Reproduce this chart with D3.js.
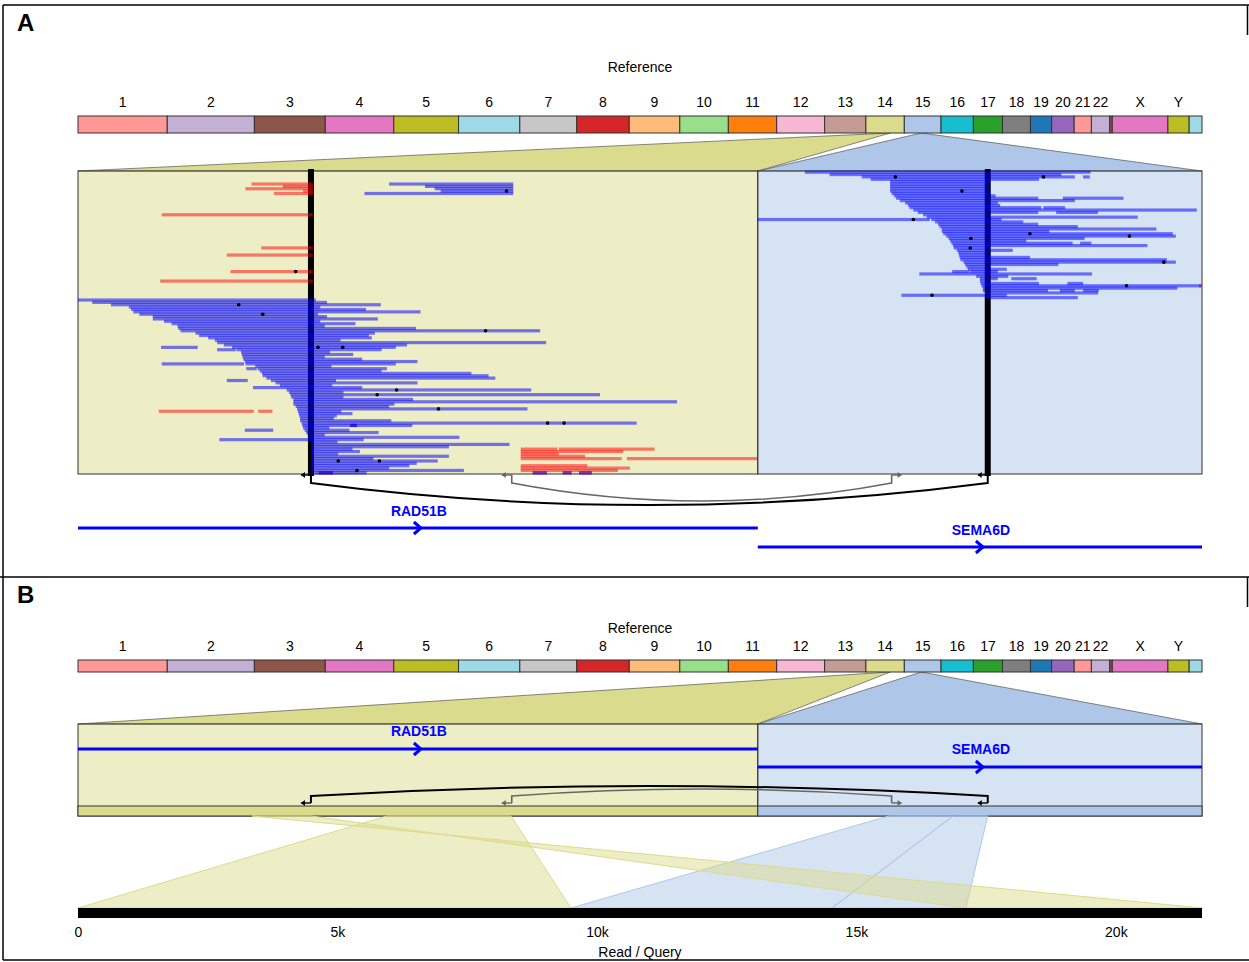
<!DOCTYPE html>
<html>
<head>
<meta charset="utf-8">
<script src="https://cdn.jsdelivr.net/npm/d3@7"></script>
<style>
  body { margin: 0; background: #fff; }
  text { font-family: "Liberation Sans", Arial, sans-serif; }
</style>
</head>
<body>
<svg id="chart" width="1249" height="962"></svg>
<script>
// ---- reference genome (hg19, Mb) ----
var chromNames = ["1","2","3","4","5","6","7","8","9","10","11","12","13","14","15","16","17","18","19","20","21","22","","X","Y",""];
var chromSizes = [249.25,243.2,198.0,191.15,180.9,171.1,159.1,146.4,141.2,135.5,135.0,133.85,115.2,107.3,102.5,90.35,81.2,78.1,59.1,63.0,48.1,51.3,7,155.3,59.4,35.8];
var palette = ["#ff9896","#c5b0d5","#8c564b","#e377c2","#bcbd22","#9edae5","#c7c7c7","#d62728","#ffbb78","#98df8a",
               "#ff7f0e","#f7b6d2","#c49c94","#dbdb8d","#aec7e8","#17becf","#2ca02c","#7f7f7f","#1f77b4","#9467bd"];

// ---- the two zoomed reference windows ----
var windowChroms = [13, 14];                 // index into chromNames (chr14, chr15)
var windowSpansMb = [[68.29, 68.32], [47.50, 47.52]];
var windowLengths = [909, 594];              // window coordinate units
var windowColors = ["#dbdb8d", "#aec7e8"];
var breakpoints = [[0, 311.5], [1, 307.5]];

// reads: [row, start, end] in window units
var leftBlue = [
  [5,416,582],[6,464,582],[7,477,582],[8,485,582],[9,383,582],
  [54,0,318],[55,19,333],[56,44,405],[57,68,324],[58,71,385],[59,74,458],[60,82,321],[61,100,333],[62,100,401],
  [63,115,324],[64,125,371],[65,133,330],[66,134,452],[67,137,618],[68,157,397],[69,162,389],[70,174,393],
  [71,183,351],[72,186,626],[73,195,440],[74,206,425],[74,111,160],[75,212,406],[75,186,211],[76,218,337],
  [77,219,368],[78,220,330],[79,221,380],[80,223,454],[81,224,425],[81,112,222],[82,237,339],[83,240,413],
  [83,225,239],[84,243,406],[85,246,526],[86,247,549],[87,252,558],[88,258,345],[88,199,227],[89,264,454],
  [90,270,340],[91,234,380],[92,279,606],[93,282,355],[94,284,698],[95,285,355],[96,288,448],[97,288,801],
  [98,288,423],[99,291,416],[100,293,601],[101,294,352],[102,295,367],[103,296,346],[104,297,342],[105,297,419],
  [106,299,747],[107,300,447],[108,301,336],[109,303,363],[109,223,261],[110,305,402],[111,307,330],[112,309,510],
  [113,189,382],[114,312,347],[115,312,577],[116,312,496],[117,312,367],[118,312,377],[119,312,348],[120,312,496],
  [121,312,395],[122,312,481],[123,312,453],[124,312,443],[125,312,416],[126,312,516],[127,312,386]
];
var leftRed = [
  [5,232,314],[6,274,314],[7,224,314],[8,301,314],[9,262,314],[18,112,314],[32,245,314],[35,199,314],
  [42,204,314],[46,110,314],[101,108,235],[101,241,260],[117,592,641],[117,643,771],[118,592,729],
  [119,592,643],[120,592,678],[121,592,727],[121,734,909],[124,592,681],[125,592,738],[126,592,722]
];
var leftMixed = [[107,364,373],[127,322,341],[127,608,627],[127,648,660],[127,670,687]];
var leftDots = [[8,573],[42,291],[56,215],[60,247],[67,545],[74,321],[74,354],[92,426],[94,400],[100,482],
  [106,628],[106,650],[122,348],[122,403],[126,373]];

var rightBlue = [
  [0,63,445],[1,96,406],[2,139,424],[2,435,444],[3,151,376],[4,177,310],[5,177,310],[6,177,310],[7,177,310],
  [8,177,310],[9,179,310],[10,182,318],[11,185,375],[11,408,489],[12,190,424],[13,197,321],[14,201,324],
  [15,203,379],[15,382,411],[16,208,587],[17,214,375],[17,399,455],[18,221,310],[19,226,508],[20,0,230],
  [20,232,326],[21,237,355],[22,241,375],[23,243,428],[24,246,533],[25,246,390],[26,248,555],[27,252,559],
  [28,255,437],[29,257,359],[30,259,421],[30,431,446],[31,261,521],[32,262,310],[33,266,341],[34,268,310],
  [35,269,310],[36,270,364],[37,271,547],[38,275,559],[39,277,402],[40,279,310],[41,281,333],[42,260,283],
  [42,284,321],[43,216,447],[44,292,335],[45,297,321],[45,339,373],[46,297,310],[47,298,376],[47,414,435],
  [48,299,593],[49,301,561],[50,301,388],[50,404,424],[50,435,456],[51,304,455],[52,192,333],[53,306,428]
];
var rightRed = [[48,590,594]];
var rightDots = [[2,184],[2,382],[8,273],[20,208],[26,364],[27,497],[28,285],[32,284],[38,543],[48,493],[52,233]];
var nRows = 128;

// junctions between alignments: [window, pos] ends, arrow directions
var junctions = [
  {a: [0, 311.5], b: [1, 307.5], dirA: -1, dirB: -1, color: "#000", width: 2, depthA: 22, depthB: 10},
  {a: [0, 580], b: [1, 179], dirA: -1, dirB: 1, color: "#666", width: 1.6, depthA: 18, depthB: 7}
];

var genes = [
  {name: "RAD51B", win: 0, start: 0, end: 909},
  {name: "SEMA6D", win: 1, start: 0, end: 594}
];

// alignments of the read to the reference (panel B); query in kb
var readLength = 21.66;
var alignments = [
  {win: 0, ref: [413, 579], query: [0, 9.50]},
  {win: 1, ref: [175, 261], query: [9.50, 14.53]},
  {win: 1, ref: [261, 307.5], query: [14.53, 17.11]},
  {win: 0, ref: [312, 232.6], query: [17.11, 21.66]}
];
var queryTicks = [0, 5, 10, 15, 20];

// ---------------------------------------------------------------
var svg = d3.select("#chart");
var X0 = 78, X1 = 1202;

var chromStarts = [0].concat(Array.from(d3.cumsum(chromSizes)));
var genomeX = d3.scaleLinear().domain([0, d3.sum(chromSizes)]).range([X0, X1]);
var winOffsets = [0, windowLengths[0]];
var winScale = d3.scaleLinear().domain([0, d3.sum(windowLengths)]).range([X0, X1]);
function wx(w, pos) { return winScale(winOffsets[w] + pos); }
function chromX(ci, mb) { return genomeX(chromStarts[ci] + mb); }

// frame lines
var frame = svg.append("g").attr("stroke", "#000").attr("stroke-width", 1.5);
[[3,5,1249,5],[3,5,3,960],[1247.5,5,1247.5,35],[0,577,1249,577],[1247.5,577,1247.5,607],[3,960,1249,960]]
  .forEach(function(l) {
    frame.append("line").attr("x1", l[0]).attr("y1", l[1]).attr("x2", l[2]).attr("y2", l[3]);
  });

function panelLetter(t, y) {
  svg.append("text").attr("x", 17).attr("y", y).text(t)
    .attr("font-size", 24).attr("font-weight", "bold");
}

function drawKaryotype(refY, labelY, barY, barH, winTopY) {
  var g = svg.append("g");
  g.append("text").attr("x", 640).attr("y", refY).attr("text-anchor", "middle")
    .attr("font-size", 14).text("Reference");

  // zoom trapezoids
  windowChroms.forEach(function(ci, w) {
    var p = [[chromX(ci, windowSpansMb[w][0]), barY + barH], [chromX(ci, windowSpansMb[w][1]), barY + barH],
             [wx(w, windowLengths[w]), winTopY], [wx(w, 0), winTopY]];
    g.append("path").attr("d", d3.line()(p) + "Z")
      .attr("fill", windowColors[w]).attr("stroke", "#555").attr("stroke-width", 0.7);
  });

  chromSizes.forEach(function(s, i) {
    var x = genomeX(chromStarts[i]), x2 = genomeX(chromStarts[i + 1]);
    g.append("rect").attr("x", x).attr("y", barY).attr("width", x2 - x).attr("height", barH)
      .attr("fill", palette[i % palette.length]).attr("stroke", "#333").attr("stroke-width", 1);
    if (chromNames[i]) {
      g.append("text").attr("x", (x + x2) / 2).attr("y", labelY).attr("text-anchor", "middle")
        .attr("font-size", 14).text(chromNames[i]);
    }
  });
}

function drawWindows(y0, y1) {
  windowLengths.forEach(function(len, w) {
    svg.append("rect").attr("x", wx(w, 0)).attr("y", y0).attr("width", wx(w, len) - wx(w, 0))
      .attr("height", y1 - y0).attr("fill", windowColors[w]).attr("fill-opacity", 0.5)
      .attr("stroke", "#333").attr("stroke-width", 1);
  });
}

function drawGene(gene, lineY, labelY) {
  var g = svg.append("g").attr("stroke", "#0000ff");
  var xa = wx(gene.win, gene.start), xb = wx(gene.win, gene.end), xm = (xa + xb) / 2;
  g.append("line").attr("x1", xa).attr("x2", xb).attr("y1", lineY).attr("y2", lineY).attr("stroke-width", 3);
  g.append("path").attr("d", "M" + (xm - 4) + "," + (lineY - 6) + "L" + (xm + 3) + "," + lineY + "L" + (xm - 4) + "," + (lineY + 6))
    .attr("fill", "none").attr("stroke-width", 3);
  svg.append("text").attr("x", xm + 1).attr("y", labelY).attr("text-anchor", "middle")
    .attr("font-size", 14).attr("font-weight", "bold").attr("fill", "#0000ff").text(gene.name);
}

function drawJunctions(baseY, stemY, sign, depthKey) {
  junctions.forEach(function(j) {
    var xa = wx(j.a[0], j.a[1]), xb = wx(j.b[0], j.b[1]);
    var cy = stemY + sign * 2 * j[depthKey];
    svg.append("path")
      .attr("d", "M" + xa + "," + baseY + "V" + stemY + "Q" + ((xa + xb) / 2) + "," + cy + " " + xb + "," + stemY + "V" + baseY)
      .attr("fill", "none").attr("stroke", j.color).attr("stroke-width", j.width);
    [[xa, j.dirA], [xb, j.dirB]].forEach(function(e) {
      var tip = e[0] + e[1] * 10;
      svg.append("line").attr("x1", e[0]).attr("x2", tip).attr("y1", baseY).attr("y2", baseY)
        .attr("stroke", j.color).attr("stroke-width", 1.4);
      svg.append("path")
        .attr("d", "M" + tip + "," + baseY + "L" + (tip - e[1] * 4) + "," + (baseY - 3) + "L" + (tip - e[1] * 4) + "," + (baseY + 3) + "Z")
        .attr("fill", j.color);
    });
  });
}

// ================= Panel A =================
panelLetter("A", 31);
drawKaryotype(72, 107, 116, 17, 171);
drawWindows(171, 474);

var rowY = d3.scaleLinear().domain([0, nRows]).range([171, 474]);
var readH = 3.2;

breakpoints.forEach(function(b) {
  svg.append("rect").attr("x", wx(b[0], b[1]) - 3).attr("y", 169).attr("width", 6).attr("height", 307).attr("fill", "#000");
});

function drawReads(data, w, color, op) {
  svg.append("g").selectAll("rect").data(data).join("rect")
    .attr("x", function(d) { return wx(w, d[1]); })
    .attr("y", function(d) { return rowY(d[0] + 0.5) - readH / 2; })
    .attr("width", function(d) { return wx(w, d[2]) - wx(w, d[1]); })
    .attr("height", readH)
    .attr("fill", color).attr("fill-opacity", op);
}
drawReads(leftRed, 0, "#ff0000", 0.5);
drawReads(leftMixed, 0, "#ff0000", 0.5);
drawReads(rightRed, 1, "#ff0000", 0.5);
drawReads(leftBlue, 0, "#0000ff", 0.52);
drawReads(leftMixed, 0, "#0000ff", 0.52);
drawReads(rightBlue, 1, "#0000ff", 0.52);

function drawDots(data, w) {
  svg.append("g").selectAll("circle").data(data).join("circle")
    .attr("cx", function(d) { return wx(w, d[1]); })
    .attr("cy", function(d) { return rowY(d[0] + 0.5); })
    .attr("r", 1.8).attr("fill", "#000");
}
drawDots(leftDots, 0);
drawDots(rightDots, 1);

drawJunctions(475, 483, 1, "depthA");
drawGene(genes[0], 528, 516);
drawGene(genes[1], 547, 535);

// ================= Panel B =================
panelLetter("B", 603);
drawKaryotype(633, 651, 660, 12, 724);
drawWindows(724, 816);
windowLengths.forEach(function(len, w) {
  svg.append("rect").attr("x", wx(w, 0)).attr("y", 806).attr("width", wx(w, len) - wx(w, 0)).attr("height", 10)
    .attr("fill", windowColors[w]).attr("stroke", "#333").attr("stroke-width", 1);
});
drawGene(genes[0], 749, 736);
drawGene(genes[1], 767, 754);
drawJunctions(803, 796, -1, "depthB");

var qx = d3.scaleLinear().domain([0, readLength]).range([X0, X1]);
var refY = 816, qY = 908;
alignments.forEach(function(a) {
  var p = [[wx(a.win, a.ref[0]), refY], [wx(a.win, a.ref[1]), refY], [qx(a.query[1]), qY], [qx(a.query[0]), qY]];
  svg.append("path").attr("d", d3.line()(p) + "Z")
    .attr("fill", windowColors[a.win]).attr("fill-opacity", 0.5)
    .attr("stroke", windowColors[a.win]).attr("stroke-width", 1);
});

svg.append("rect").attr("x", X0).attr("y", qY).attr("width", X1 - X0).attr("height", 10).attr("fill", "#000");

var axis = svg.append("g").attr("transform", "translate(0," + (qY + 10) + ")")
  .call(d3.axisBottom(qx).tickValues(queryTicks).tickSize(0).tickPadding(9)
    .tickFormat(function(d) { return d === 0 ? "0" : d + "k"; }));
axis.select(".domain").remove();
axis.attr("font-size", 14).attr("font-family", "Liberation Sans, Arial, sans-serif");
axis.selectAll("text").attr("font-size", 14);

svg.append("text").attr("x", 640).attr("y", 957).attr("text-anchor", "middle")
  .attr("font-size", 14).text("Read / Query");
</script>
</body>
</html>
